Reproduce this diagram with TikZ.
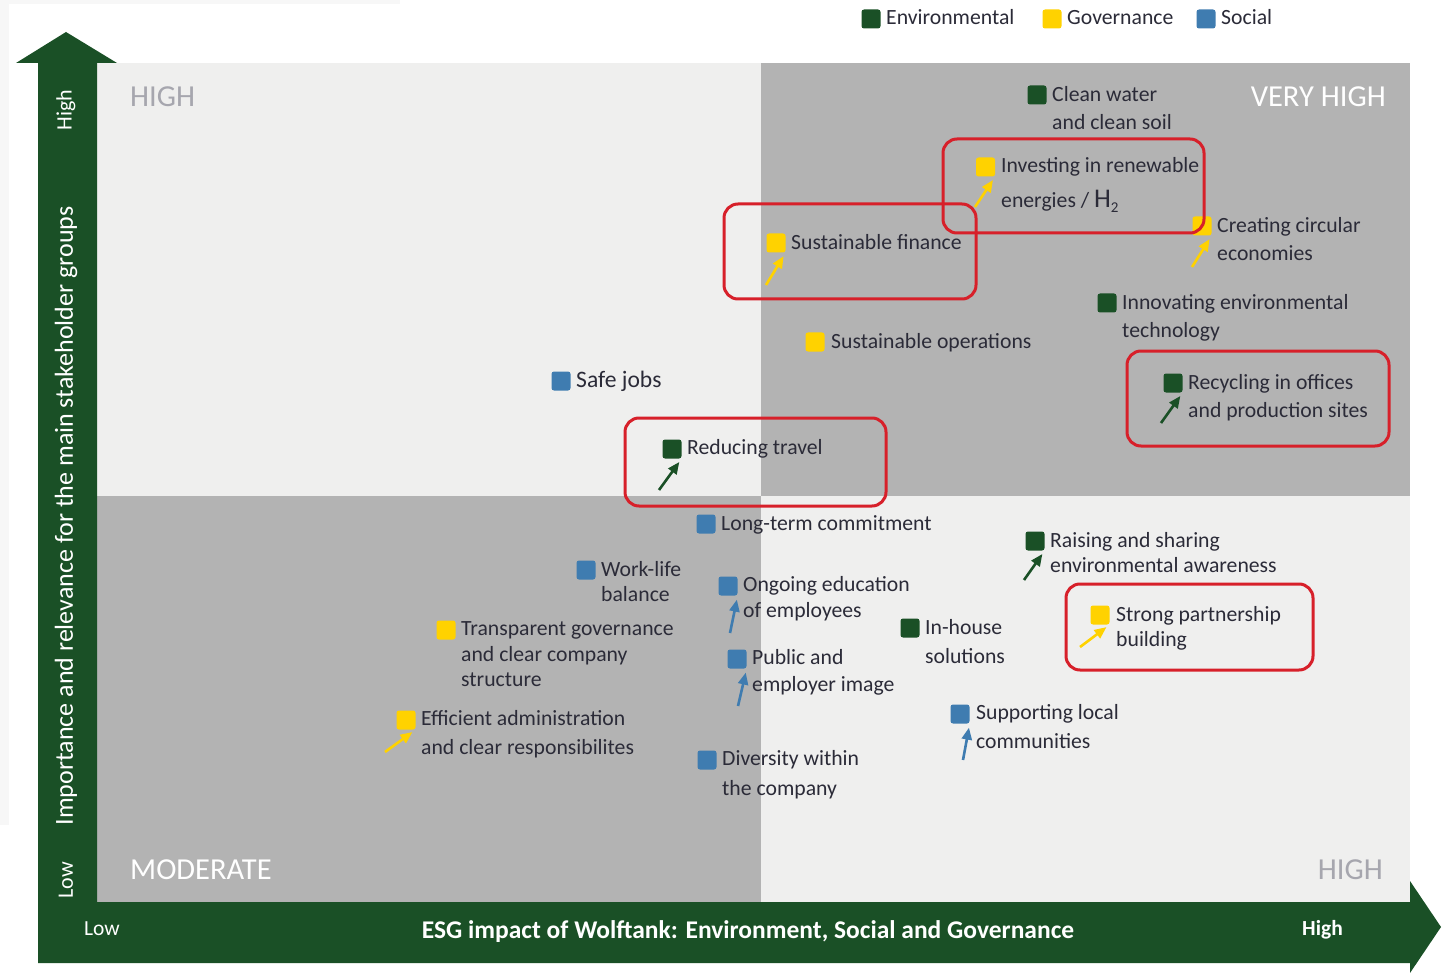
\documentclass[tikz,border=0pt]{standalone}
\usepackage{fontspec}
\setmainfont{Carlito}
\usetikzlibrary{arrows.meta}
\definecolor{envc}{HTML}{1A5026}
\definecolor{govc}{HTML}{FFD200}
\definecolor{socc}{HTML}{3F7CB0}
\definecolor{lightq}{HTML}{EFEFEE}
\definecolor{darkq}{HTML}{B3B3B3}
\definecolor{txt}{HTML}{2B2B38}
\definecolor{qlab}{HTML}{A6A6AE}
\definecolor{redbox}{HTML}{D7202A}
\definecolor{faint}{HTML}{F7F7F7}
\begin{document}
\begin{tikzpicture}[x=1pt,y=-1pt,
  sq/.style={rectangle, rounded corners=2.5pt, minimum size=19pt, inner sep=0pt, draw=none},
  lbl/.style={anchor=mid west, inner sep=0pt, yshift=-2.5pt, text=txt, font=\fontsize{21.7}{25}\selectfont},
  arr/.style={line width=2.6pt, -{Triangle[length=12pt,width=10pt]}, shorten >=4pt},
  redb/.style={draw=redbox, line width=3pt, rounded corners=14pt},
  qlw/.style={anchor=mid west, inner sep=0pt, yshift=-4.5pt, font=\fontsize{30.5}{32}\selectfont},
  qle/.style={anchor=mid east, inner sep=0pt, yshift=-4.5pt, font=\fontsize{30.5}{32}\selectfont},
  axt/.style={text=white, inner sep=0pt, font=\fontsize{21}{24}\selectfont}
]
\useasboundingbox (0,0) rectangle (1442,973);
\fill[white] (0,0) rectangle (1442,973);
\fill[faint] (0,0) rectangle (400,4);
\fill[faint] (0,0) rectangle (9,825);

% quadrants
\fill[lightq] (97,63) rectangle (761,496);
\fill[darkq] (761,63) rectangle (1410,496);
\fill[darkq] (97,496) rectangle (761,902);
\fill[lightq] (761,496) rectangle (1410,902);

% axes arrow
\fill[envc] (38,963) -- (38,63) -- (16,63) -- (66,32) -- (117,63) -- (97,63) -- (97,902)
  -- (1410,902) -- (1410,881) -- (1441,927) -- (1410,973) -- (1410,963) -- cycle;

% axis labels
\node[axt, rotate=90, font=\fontsize{22}{24}\selectfont] (yhigh) at (66,110) {High};
\node[axt, rotate=90, font=\fontsize{22}{24}\selectfont] (ylow) at (66,880) {Low};
\node[axt, rotate=90, font=\fontsize{26}{30}\selectfont] (ytitle) at (66,516) {Importance and relevance for the main stakeholder groups};
\node[axt, anchor=mid west, yshift=-2.5pt, font=\fontsize{21.5}{24}\selectfont] (xlow) at (84,931) {Low};
\node[axt, anchor=mid east, yshift=-2.5pt, font=\bfseries\fontsize{21.5}{24}\selectfont] (xhigh) at (1343,931) {High};
\node[axt, yshift=-2pt, font=\bfseries\fontsize{25.5}{28}\selectfont] (xtitle) at (748,930) {ESG impact of Wolftank: Environment, Social and Governance};

% quadrant labels
\node[qlw, text=qlab] (qtl) at (130,100) {HIGH};
\node[qle, text=white] (qtr) at (1386,100) {VERY HIGH};
\node[qlw, text=white] (qbl) at (130,873) {MODERATE};
\node[qle, text=qlab] (qbr) at (1383,873) {HIGH};

% legend
\node[sq, fill=envc] (lgE) at (871,19) {};
\node[lbl] (lgEt) at (886,20) {Environmental};
\node[sq, fill=govc] (lgG) at (1052,19) {};
\node[lbl] (lgGt) at (1067,20) {Governance};
\node[sq, fill=socc] (lgS) at (1206,19) {};
\node[lbl] (lgSt) at (1221,20) {Social};

% items
\node[sq, fill=envc] (cw) at (1037,95) {};
\node[lbl] (cw1) at (1052,97) {Clean water};
\node[lbl] (cw2) at (1052,125) {and clean soil};

\node[sq, fill=govc] (ir) at (985.5,167) {};
\node[lbl] (ir1) at (1001,168) {Investing in renewable};
\node[lbl] (ir2) at (1001,203) {energies / {\fontsize{27}{27}\selectfont H}\raisebox{-5pt}{\fontsize{15}{15}\selectfont 2}};

\node[sq, fill=govc] (sf) at (776,243) {};
\node[lbl] (sf1) at (791,245) {Sustainable finance};

\node[sq, fill=govc] (cc) at (1202,226) {};
\node[lbl] (cc1) at (1217,228) {Creating circular};
\node[lbl] (cc2) at (1217,256) {economies};

\node[sq, fill=envc] (ie) at (1107,303) {};
\node[lbl] (ie1) at (1122,305) {Innovating environmental};
\node[lbl] (ie2) at (1122,333) {technology};

\node[sq, fill=govc] (so) at (815,342) {};
\node[lbl] (so1) at (831,344) {Sustainable operations};

\node[sq, fill=socc] (sj) at (561,381) {};
\node[lbl, font=\fontsize{23.6}{26}\selectfont] (sj1) at (576,383) {Safe jobs};

\node[sq, fill=envc] (rc) at (1173,383) {};
\node[lbl] (rc1) at (1188,385) {Recycling in offices};
\node[lbl] (rc2) at (1188,413) {and production sites};

\node[sq, fill=envc] (rt) at (672,449) {};
\node[lbl] (rt1) at (687,450) {Reducing travel};

\node[sq, fill=socc] (lt) at (706,524) {};
\node[lbl] (lt1) at (721,526) {Long-term commitment};

\node[sq, fill=envc] (rs) at (1035,541) {};
\node[lbl] (rs1) at (1050,543) {Raising and sharing};
\node[lbl] (rs2) at (1050,568) {environmental awareness};

\node[sq, fill=socc] (wl) at (586,570) {};
\node[lbl] (wl1) at (601,572) {Work-life};
\node[lbl] (wl2) at (601,597) {balance};

\node[sq, fill=socc] (oe) at (728,586) {};
\node[lbl] (oe1) at (743,587) {Ongoing education};
\node[lbl] (oe2) at (743,613) {of employees};

\node[sq, fill=govc] (tg) at (446,630) {};
\node[lbl] (tg1) at (461,631) {Transparent governance};
\node[lbl] (tg2) at (461,657) {and clear company};
\node[lbl] (tg3) at (461,682) {structure};

\node[sq, fill=envc] (ih) at (910,628) {};
\node[lbl] (ih1) at (925,630) {In-house};
\node[lbl] (ih2) at (925,659) {solutions};

\node[sq, fill=govc] (sp) at (1100,615) {};
\node[lbl] (sp1) at (1116,617) {Strong partnership};
\node[lbl] (sp2) at (1116,642) {building};

\node[sq, fill=socc] (pe) at (737,659) {};
\node[lbl] (pe1) at (752,660) {Public and};
\node[lbl] (pe2) at (752,687) {employer image};

\node[sq, fill=govc] (ea) at (406,720) {};
\node[lbl] (ea1) at (421,721) {Efficient administration};
\node[lbl] (ea2) at (421,750) {and clear responsibilites};

\node[sq, fill=socc] (sl) at (960,714) {};
\node[lbl] (sl1) at (976,715) {Supporting local};
\node[lbl] (sl2) at (976,744) {communities};

\node[sq, fill=socc] (dv) at (707,760) {};
\node[lbl] (dv1) at (722,761) {Diversity within};
\node[lbl] (dv2) at (722,791) {the company};

% arrow tails
\coordinate (irT) at (975,207);
\coordinate (sfT) at (766,285);
\coordinate (ccT) at (1192,267);
\coordinate (rcT) at (1161,423);
\coordinate (rtT) at (659,490);
\coordinate (rsT) at (1024,580);
\coordinate (oeT) at (730,633);
\coordinate (spT) at (1080,647);
\coordinate (peT) at (738,706);
\coordinate (eaT) at (385,752);
\coordinate (slT) at (963,760);

\draw[arr, govc] (irT) -- (ir.south east);
\draw[arr, govc] (sfT) -- (sf.south east);
\draw[arr, govc] (ccT) -- (cc.south east);
\draw[arr, envc] (rcT) -- (rc.south east);
\draw[arr, envc] (rtT) -- (rt.south east);
\draw[arr, envc] (rsT) -- (rs.south east);
\draw[arr, socc] (oeT) -- (oe.south east);
\draw[arr, govc] (spT) -- (sp.south east);
\draw[arr, socc] (peT) -- (pe.south east);
\draw[arr, govc] (eaT) -- (ea.south east);
\draw[arr, socc] (slT) -- (sl.south east);

% red highlight boxes
\draw[redb] (943,139) rectangle (1204,233);
\draw[redb] (724,204) rectangle (976,299);
\draw[redb] (1127,351) rectangle (1389,446);
\draw[redb] (625,418) rectangle (886,506);
\draw[redb] (1066,584) rectangle (1313,670);
\end{tikzpicture}
\end{document}
